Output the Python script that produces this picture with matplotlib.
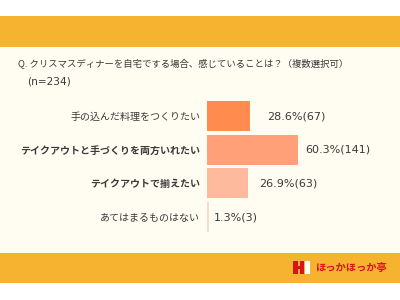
import matplotlib
matplotlib.use("Agg")
import matplotlib.pyplot as plt
from matplotlib.patches import Rectangle

plt.rcParams['font.family'] = ['Noto Sans CJK JP', 'DejaVu Sans']

categories = ["手の込んだ料理をつくりたい", "テイクアウトと手づくりを両方いれたい",
              "テイクアウトで揃えたい", "あてはまるものはない"]
percents = [28.6, 60.3, 26.9, 1.3]
counts = [67, 141, 63, 3]
bold_rows = [False, True, True, False]
title = "Q. クリスマスディナーを自宅でする場合、感じていることは？（複数選択可）"
subtitle = "(n=234)"
brand = "ほっかほっか亭"

bar_colors = ["#FF8C4E", "#FFA078", "#FDBA9C", "#FADACB"]
label_offsets_px = [17, 7, 12, 5]

W, H = 400, 300
fig = plt.figure(figsize=(4, 3), dpi=100)
fig.patch.set_facecolor("white")

# background panels
bg = fig.add_axes([0, 0, 1, 1])
bg.set_xlim(0, W)
bg.set_ylim(H, 0)
bg.axis("off")
bg.add_patch(Rectangle((0, 47), W, 206, color="#FFFCF1", lw=0))
bg.add_patch(Rectangle((0, 16), W, 31, color="#F6B32F", lw=0))
bg.add_patch(Rectangle((0, 253), W, 30, color="#F6B32F", lw=0))
bg.text(18, 63, title, fontsize=6.75, color="#3A3A3A", va="center", ha="left")
bg.text(27, 81, subtitle, fontsize=7.6, color="#3A3A3A", va="center", ha="left",
        family=["DejaVu Sans"])

# logo
red = "#D9131C"
bg.add_patch(Rectangle((293, 261), 11, 13, color=red, lw=0))
bg.add_patch(Rectangle((298, 261), 1.6, 5, color="#F6B32F", lw=0))
bg.add_patch(Rectangle((298, 269), 1.6, 5, color="#F6B32F", lw=0))
bg.add_patch(Rectangle((305, 261), 5, 13, color="white", lw=0))
bg.text(315, 268, brand, fontsize=7.4, color=red, fontweight="bold",
        va="center", ha="left")

# bar chart
px_per_pct = 1.51
ax_left = 207
ax_width = 100 * px_per_pct
top = 99.2
height = 4 * 33.7
ax = fig.add_axes([ax_left / W, 1 - (top + height) / H, ax_width / W, height / H])
ax.set_xlim(0, 100)
ax.set_ylim(3.5, -0.5)
ypos = list(range(len(categories)))
ax.barh(ypos, percents, height=0.89, color=bar_colors)
ax.set_facecolor("none")
for s in ax.spines.values():
    s.set_visible(False)
ax.set_xticks([])
ax.set_yticks(ypos)
ax.set_yticklabels(categories, fontsize=7.2, color="#3A3A3A")
for lbl, b in zip(ax.get_yticklabels(), bold_rows):
    lbl.set_fontweight("bold" if b else "normal")
ax.tick_params(axis="y", length=0, pad=5)

for y, p, c, off in zip(ypos, percents, counts, label_offsets_px):
    ax.annotate(f"{p:.1f}%({c})", xy=(p, y), xytext=(off * 0.72, 0),
                textcoords="offset points", va="center", ha="left",
                fontsize=8, color="#3A3A3A", family=["DejaVu Sans"])

fig.savefig("out.png", dpi=100, facecolor=fig.get_facecolor())
